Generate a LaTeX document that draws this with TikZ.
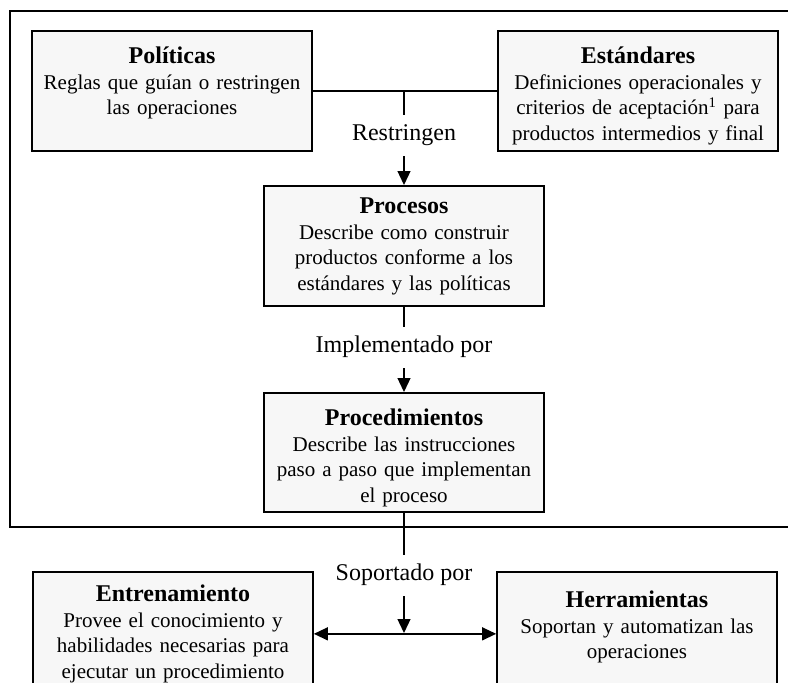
\documentclass[tikz,border=0pt]{standalone}
\usepackage{fontspec}
\setmainfont{Liberation Serif}
\usetikzlibrary{arrows.meta}

\newcommand{\cuerpo}{\fontsize{21pt}{25.5pt}\selectfont}
\newcommand{\titulo}[1]{{\fontsize{24pt}{27pt}\selectfont\bfseries #1}}

\tikzset{
	caja/.style={draw, line width=1.7pt, fill=black!3, anchor=north,
		text width=270pt, align=center, inner xsep=5pt, inner ysep=5pt,
		text height=28pt, text depth=82pt, font=\cuerpo},
	etiqueta/.style={anchor=base, inner sep=0pt, text height=25pt, text depth=16pt,
		font=\fontsize{24pt}{27pt}\selectfont},
	linea/.style={line width=1.3pt},
	flecha/.style={line width=1.3pt, -{Triangle[length=14pt,width=13pt]}},
	marco/.style={line width=2pt}
}

\begin{document}
\begin{tikzpicture}[x=1pt, y=-1pt]
					\useasboundingbox (0,0) rectangle (788,683);
					\clip (0,0) rectangle (788,683);

					\draw[marco] (10,11) rectangle (800,527);

					\draw
						(172,30) node[caja] (pol) {\titulo{Políticas}\\ Reglas que guían o restringen\\ las operaciones}
						(638,30) node[caja] (est) {\titulo{Estándares}\\ Definiciones operacionales y\\ criterios de aceptación\textsuperscript{1} para\\ productos intermedios y final}

						(404,185) node[caja, text height=23pt, text depth=87pt] (proc) {\titulo{Procesos}\\ Describe como construir\\ productos conforme a los\\ estándares y las políticas}

						(404,392) node[caja, text depth=81pt] (proced) {\titulo{Procedimientos}\\ Describe las instrucciones\\ paso a paso que implementan\\ el proceso}

						(173,571) node[caja, text height=25pt, text depth=89pt] (entr) {\titulo{Entrenamiento}\\ Provee el conocimiento y\\ habilidades necesarias para\\ ejecutar un procedimiento}
						(637,571) node[caja, text height=31pt, text depth=83pt] (herr) {\titulo{Herramientas}\\ Soportan y automatizan las\\ operaciones};

					\node[etiqueta] (restr) at (404,140) {Restringen};
					\node[etiqueta] (impl) at (404,352) {Implementado por};
					\node[etiqueta] (sop) at (404,580) {Soportado por};

					\coordinate (union) at (404,90);
					\coordinate (soporte) at (404,633);

					\draw[linea]
						(pol.east) -- (est.west)
						(union) -- (restr.north)
						(proc.south) -- (impl.north)
						(proced.south) -- (sop.north);

					\draw[flecha] (restr.south) -- (proc.north);
					\draw[flecha] (impl.south) -- (proced.north);
					\draw[flecha] (sop.south) -- (soporte);

					\draw[linea, {Triangle[length=14pt,width=13pt]}-{Triangle[length=14pt,width=13pt]}]
						(entr.east) -- (herr.west);
\end{tikzpicture}
\end{document}
